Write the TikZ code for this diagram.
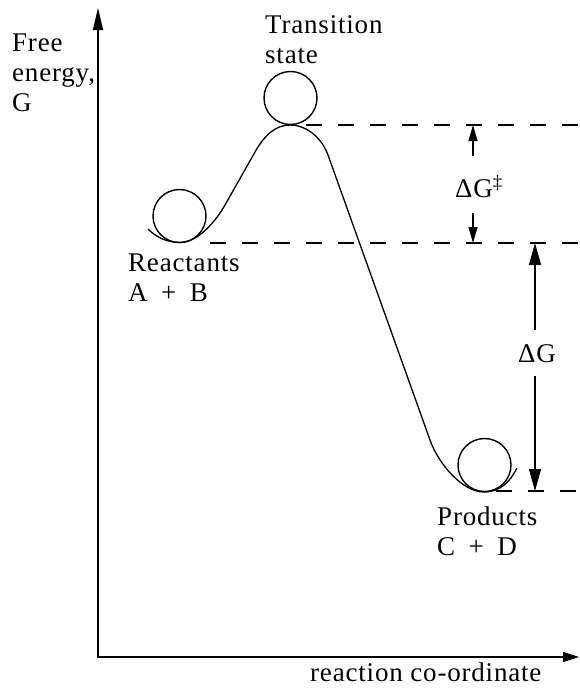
\documentclass[tikz,border=0pt]{standalone}
\usepackage{fontspec}
\setmainfont{Liberation Serif}
\newfontfamily\labelfont{Liberation Serif}[LetterSpace=3]
\usetikzlibrary{arrows.meta}

\begin{document}
\begin{tikzpicture}[x=1pt,y=-1pt,
    lbl/.style={font=\labelfont\fontsize{27}{30}\selectfont, inner sep=0pt, align=left},
    ball/.style={draw, circle, line width=1.4pt, minimum size=53pt, inner sep=0pt},
    guide/.style={line width=1.8pt, dash pattern=on 16pt off 16pt},
    tip/.style={line width=1.2pt, -{Triangle[length=16pt,width=9pt]}},
    bigtip/.style={line width=1.2pt, -{Triangle[length=22pt,width=12pt]}}]
    \useasboundingbox (0,0) rectangle (579,688);

    \coordinate (ytop) at (98,8);
    \coordinate (o) at (98,657);
    \coordinate (xend) at (579,657);
    \coordinate (edge) at (579,0);
    \draw[line width=1.4pt, {Triangle[length=22pt,width=10pt]}-{Triangle[length=16pt,width=10pt]}] (ytop) -- (o) -- (xend);

    \coordinate (rwell) at (180,242.5);
    \coordinate (peak) at (290,125);
    \coordinate (pwell) at (484,492);
    \draw[line width=1.3pt] (148,229) .. controls (157,238) and (168,242.5) .. (rwell)
        .. controls (198,242.5) and (216,221) .. (225,205) -- (255,152)
        .. controls (264,136) and (275,125) .. (peak)
        .. controls (305,125) and (321,136) .. (328,155) -- (430,440)
        .. controls (438,463) and (462,492) .. (pwell)
        .. controls (500,492) and (510,482) .. (517,468);

    \node[ball] (ballR) at (179.5,216) {};
    \node[ball] (ballT) at (290.5,98) {};
    \node[ball] (ballP) at (484.5,465) {};

    \coordinate (tsr) at (306,125);
    \coordinate (rr) at (210,243);
    \coordinate (pr) at (496,491);
    \draw[guide] (tsr) -- (tsr -| edge);
    \draw[guide] (rr) -- (rr -| edge);
    \draw[guide] (pr) -- (pr -| edge);

    \node[lbl, anchor=north west] (gaxis) at (12,34) {Free\\energy,\\G};
    \node[lbl, anchor=north west] (ts) at (265,15) {Transition\\state};
    \node[lbl, anchor=north west] (react) at (128,254) {Reactants\\A\enspace+\enspace B};
    \node[lbl, anchor=north west] (prod) at (437,507) {Products\\C\enspace+\enspace D};
    \node[lbl, anchor=base west] (xlabel) at (310,681) {reaction co-ordinate};
    \node[lbl] (dGa) at (479,187) {ΔG\textsuperscript{‡}};
    \node[lbl] (dG) at (537,354) {ΔG};

    \coordinate (a1) at (473,156);
    \coordinate (a2) at (473,213);
    \coordinate (b1) at (535,330);
    \coordinate (b2) at (535,376);
    \draw[tip] (a1) -- (a1 |- tsr);
    \draw[tip] (a2) -- (a2 |- rr);
    \draw[bigtip] (b1) -- (b1 |- rr);
    \draw[bigtip] (b2) -- (b2 |- pr);
\end{tikzpicture}
\end{document}
